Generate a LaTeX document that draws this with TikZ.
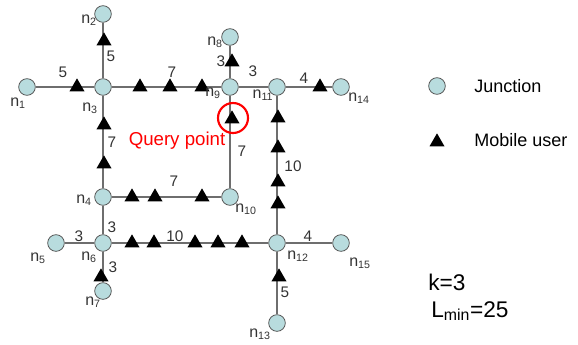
\documentclass[tikz,border=0pt]{standalone}
\usepackage{fontspec}
\setmainfont{Liberation Sans}
\usetikzlibrary{shapes.geometric}
\definecolor{jfill}{HTML}{B8DCDE}
\definecolor{jline}{HTML}{555555}
\definecolor{eline}{HTML}{6E6E6E}
\definecolor{tcol}{HTML}{333333}
\tikzset{
  junction/.style={circle,draw=jline,fill=jfill,line width=0.6pt,minimum size=12.5pt,inner sep=0pt},
  muser/.style={regular polygon,regular polygon sides=3,fill=black,minimum size=13pt,inner sep=0pt},
  road/.style={draw=eline,line width=0.9pt},
  wt/.style={font=\fontsize{11.5}{13}\selectfont,text=tcol,inner sep=0pt},
  nl/.style={font=\fontsize{12}{14}\selectfont,text=tcol,inner sep=0pt},
  legtxt/.style={font=\fontsize{13.5}{16}\selectfont,anchor=west,inner sep=0pt},
  bigtxt/.style={font=\fontsize{17}{20}\selectfont,anchor=west,inner sep=0pt}
}
\begin{document}
\begin{tikzpicture}[x=0.75pt,y=-0.75pt]
\path[use as bounding box] (0,0) rectangle (578,344);
% junctions
\node[junction] (n1) at (27,87) {};
\node[junction] (n2) at (103,14) {};
\node[junction] (n3) at (103,87) {};
\node[junction] (n4) at (103,197) {};
\node[junction] (n5) at (56,243) {};
\node[junction] (n6) at (103,243) {};
\node[junction] (n7) at (103,291) {};
\node[junction] (n8) at (230,37) {};
\node[junction] (n9) at (230,87) {};
\node[junction] (n10) at (230,197) {};
\node[junction] (n11) at (277,87) {};
\node[junction] (n12) at (277,243) {};
\node[junction] (n13) at (277,323) {};
\node[junction] (n14) at (341,87) {};
\node[junction] (n15) at (341,243) {};
% roads
\draw[road] (n1) -- (n3);
\draw[road] (n2) -- (n3);
\draw[road] (n3) -- (n9);
\draw[road] (n8) -- (n9);
\draw[road] (n9) -- (n11);
\draw[road] (n11) -- (n14);
\draw[road] (n3) -- (n4);
\draw[road] (n9) -- (n10);
\draw[road] (n11) -- (n12);
\draw[road] (n4) -- (n10);
\draw[road] (n4) -- (n6);
\draw[road] (n5) -- (n6);
\draw[road] (n6) -- (n12);
\draw[road] (n12) -- (n15);
\draw[road] (n6) -- (n7);
\draw[road] (n12) -- (n13);
% mobile users
\node[muser] (u1) at (77,87) {};
\node[muser] (u2) at (104,41) {};
\node[muser] (u3) at (140,87) {};
\node[muser] (u4) at (170,87) {};
\node[muser] (u5) at (202,87) {};
\node[muser] (u6) at (232,62) {};
\node[muser] (u7) at (232,119) {};
\node[muser] (u8) at (320,87) {};
\node[muser] (u9) at (104,125) {};
\node[muser] (u10) at (104,164) {};
\node[muser] (u11) at (278,118) {};
\node[muser] (u12) at (278,148) {};
\node[muser] (u13) at (278,182) {};
\node[muser] (u14) at (278,204) {};
\node[muser] (u15) at (132,197) {};
\node[muser] (u16) at (155,197) {};
\node[muser] (u17) at (202,197) {};
\node[muser] (u18) at (132,243) {};
\node[muser] (u19) at (154,243) {};
\node[muser] (u20) at (195,243) {};
\node[muser] (u21) at (218,243) {};
\node[muser] (u22) at (242,243) {};
\node[muser] (u23) at (101,277) {};
\node[muser] (u24) at (279,277) {};
% query circle
\node[circle,draw=red,line width=1.6pt,minimum size=22.5pt,inner sep=0pt] (qc) at (233,118) {};
\node[font=\fontsize{14}{16}\selectfont,text=red,inner sep=0pt] (qp) at (177,141) {Query point};
% node labels
\node[nl] (l1) at (18,103) {n\textsubscript{1}};
\node[nl] (l2) at (89,20) {n\textsubscript{2}};
\node[nl] (l3) at (90,108) {n\textsubscript{3}};
\node[nl] (l4) at (84,200) {n\textsubscript{4}};
\node[nl] (l5) at (38,258) {n\textsubscript{5}};
\node[nl] (l6) at (89,257) {n\textsubscript{6}};
\node[nl] (l7) at (93,302) {n\textsubscript{7}};
\node[nl] (l8) at (215,42) {n\textsubscript{8}};
\node[nl] (l9) at (213,93) {n\textsubscript{9}};
\node[nl] (l10) at (246,209) {n\textsubscript{10}};
\node[nl] (l11) at (263,95) {n\textsubscript{11}};
\node[nl] (l12) at (298,256) {n\textsubscript{12}};
\node[nl] (l13) at (260,334) {n\textsubscript{13}};
\node[nl] (l14) at (359,98) {n\textsubscript{14}};
\node[nl] (l15) at (360,263) {n\textsubscript{15}};
% weights
\node[wt] (w1) at (63,72) {5};
\node[wt] (w2) at (111,56) {5};
\node[wt] (w3) at (172,72) {7};
\node[wt] (w4) at (221,61) {3};
\node[wt] (w5) at (253,71) {3};
\node[wt] (w6) at (304,78) {4};
\node[wt] (w7) at (112,142) {7};
\node[wt] (w8) at (242,151) {7};
\node[wt] (w9) at (293,166) {10};
\node[wt] (w10) at (174,181) {7};
\node[wt] (w11) at (112,227) {3};
\node[wt] (w12) at (79,236) {3};
\node[wt] (w13) at (175,236) {10};
\node[wt] (w14) at (308,236) {4};
\node[wt] (w15) at (113,267) {3};
\node[wt] (w16) at (285,292) {5};
% legend
\node[junction] (lj) at (437,86) {};
\node[legtxt] (ljt) at (474,86) {Junction};
\node[muser] (lm) at (437,142) {};
\node[legtxt] (lmt) at (474,140) {Mobile user};
\node[bigtxt] (kk) at (428,282) {k=3};
\node[bigtxt] (ll) at (431,311) {L\textsubscript{min}=25};
\end{tikzpicture}
\end{document}
